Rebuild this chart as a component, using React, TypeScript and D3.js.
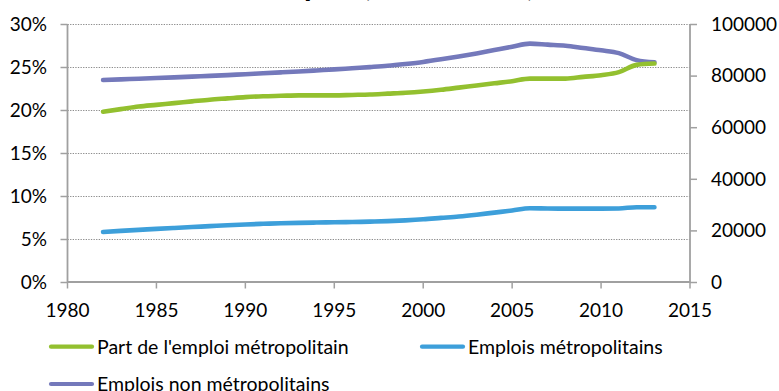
import React from "react";
import * as d3 from "d3";

// Annual series, 1982–2013
const years: number[] = [
  1982, 1983, 1984, 1985, 1986, 1987, 1988, 1989, 1990, 1991, 1992, 1993, 1994, 1995, 1996, 1997,
  1998, 1999, 2000, 2001, 2002, 2003, 2004, 2005, 2006, 2007, 2008, 2009, 2010, 2011, 2012, 2013,
];

// Share of metropolitan employment (%), left axis
const partMetro: number[] = [
  19.8, 20.1, 20.4, 20.6, 20.8, 21.0, 21.2, 21.35, 21.5, 21.6, 21.65, 21.7, 21.7, 21.7, 21.75, 21.8,
  21.9, 22.0, 22.15, 22.35, 22.6, 22.85, 23.1, 23.35, 23.65, 23.65, 23.65, 23.85, 24.05, 24.4, 25.25, 25.4,
];

// Metropolitan jobs, right axis
const emploisMetro: number[] = [
  19400, 19800, 20200, 20600, 20950, 21300, 21650, 22000, 22300, 22550, 22750, 22900, 23050, 23150, 23250, 23400,
  23600, 23900, 24300, 24850, 25400, 26100, 26900, 27700, 28600, 28500, 28450, 28450, 28450, 28500, 29000, 29000,
];

// Non-metropolitan jobs, right axis
const emploisNonMetro: number[] = [
  78300, 78550, 78800, 79050, 79300, 79600, 79900, 80200, 80550, 80900, 81250, 81600, 82000, 82400, 82850, 83300,
  83800, 84500, 85300, 86300, 87400, 88600, 89900, 91200, 92400, 92000, 91600, 90700, 89800, 88700, 86000, 85200,
];

const xTicks: number[] = [1980, 1985, 1990, 1995, 2000, 2005, 2010, 2015];
const leftTicks: number[] = [0, 5, 10, 15, 20, 25, 30];
const rightTicks: number[] = [0, 20000, 40000, 60000, 80000, 100000];

const titleText = "Évolution de l'emploi (1982-2013)";

const seriesNames = {
  part: "Part de l'emploi métropolitain",
  metro: "Emplois métropolitains",
  nonMetro: "Emplois non métropolitains",
};

const COLORS = {
  part: "#93c02f",
  metro: "#3d9fda",
  nonMetro: "#7479bb",
  axis: "#a0a0a0",
  grid: "#8c8c8c",
  text: "#000000",
};

const W = 779;
const H = 391;
const FONT = "Lato, 'Open Sans', 'DejaVu Sans', sans-serif";

export default function App() {
  const x = d3.scaleLinear().domain([1980, 2015]).range([67.5, 690]);
  const yL = d3.scaleLinear().domain([0, 30]).range([282, 24]);
  const yR = d3.scaleLinear().domain([0, 100000]).range([282, 24]);

  const lineL = d3
    .line<number>()
    .x((_, i) => x(years[i]))
    .y((d) => yL(d))
    .curve(d3.curveMonotoneX);
  const lineR = d3
    .line<number>()
    .x((_, i) => x(years[i]))
    .y((d) => yR(d))
    .curve(d3.curveMonotoneX);

  const x0 = x.range()[0];
  const x1 = x.range()[1];
  const yBase = yL(0);

  const legendItems = [
    { name: seriesNames.part, color: COLORS.part, lx: 49, ly: 346.7 },
    { name: seriesNames.metro, color: COLORS.metro, lx: 420, ly: 346.7 },
    { name: seriesNames.nonMetro, color: COLORS.nonMetro, lx: 49, ly: 384 },
  ];

  return (
    <svg
      width={W}
      height={H}
      viewBox={`0 0 ${W} ${H}`}
      style={{ position: "absolute", left: 0, top: 0, background: "#ffffff" }}
      fontFamily={FONT}
    >
      <rect x={0} y={0} width={W} height={H} fill="#ffffff" />

      {/* Title, mostly above the visible area */}
      <text x={535} y={-4.5} textAnchor="end" fontSize={31} fontWeight="bold" fill={COLORS.text}>
        {titleText}
      </text>

      {/* Horizontal dotted gridlines */}
      {leftTicks
        .filter((t) => t !== 0)
        .map((t) => (
          <line
            key={`g${t}`}
            x1={x0}
            x2={x1}
            y1={yL(t) + 0.5}
            y2={yL(t) + 0.5}
            stroke={COLORS.grid}
            strokeWidth={1}
            strokeDasharray="1.3,1.3"
          />
        ))}

      {/* Left axis */}
      <line x1={x0} x2={x0} y1={yL(30)} y2={yBase} stroke={COLORS.axis} strokeWidth={1.8} />
      {leftTicks.map((t) => (
        <g key={`l${t}`}>
          <line x1={x0 - 7} x2={x0} y1={yL(t) + 0.5} y2={yL(t) + 0.5} stroke={COLORS.axis} strokeWidth={1.5} />
          <text x={47} y={yL(t) + 6.8} textAnchor="end" fontSize={19} fill={COLORS.text}>
            {`${t}%`}
          </text>
        </g>
      ))}

      {/* Right axis */}
      <line x1={x1} x2={x1} y1={yR(100000)} y2={yBase} stroke={COLORS.axis} strokeWidth={1.8} />
      {rightTicks.map((t) => (
        <g key={`r${t}`}>
          <line x1={x1} x2={x1 + 7} y1={yR(t) + 0.5} y2={yR(t) + 0.5} stroke={COLORS.axis} strokeWidth={1.5} />
          <text x={711} y={yR(t) + 6.8} textAnchor="start" fontSize={19} fill={COLORS.text}>
            {String(t)}
          </text>
        </g>
      ))}

      {/* Bottom axis */}
      <line x1={x0} x2={x1} y1={yBase} y2={yBase} stroke={COLORS.axis} strokeWidth={1.8} />
      {xTicks.map((t) => (
        <g key={`x${t}`}>
          <line x1={x(t)} x2={x(t)} y1={yBase} y2={yBase + 6.5} stroke={COLORS.axis} strokeWidth={1.5} />
          <text x={x(t)} y={316.5} textAnchor="middle" fontSize={19} fill={COLORS.text}>
            {String(t)}
          </text>
        </g>
      ))}

      {/* Series */}
      <path d={lineR(emploisNonMetro) ?? ""} fill="none" stroke={COLORS.nonMetro} strokeWidth={4.6} strokeLinecap="round" strokeLinejoin="round" />
      <path d={lineR(emploisMetro) ?? ""} fill="none" stroke={COLORS.metro} strokeWidth={4.6} strokeLinecap="round" strokeLinejoin="round" />
      <path d={lineL(partMetro) ?? ""} fill="none" stroke={COLORS.part} strokeWidth={4.6} strokeLinecap="round" strokeLinejoin="round" />

      {/* Legend */}
      {legendItems.map((it) => (
        <g key={it.name}>
          <line x1={it.lx + 2} x2={it.lx + 43} y1={it.ly} y2={it.ly} stroke={it.color} strokeWidth={4.2} strokeLinecap="round" />
          <text x={it.lx + 48} y={it.ly + 6.8} fontSize={19.5} fill={COLORS.text}>
            {it.name}
          </text>
        </g>
      ))}
    </svg>
  );
}
